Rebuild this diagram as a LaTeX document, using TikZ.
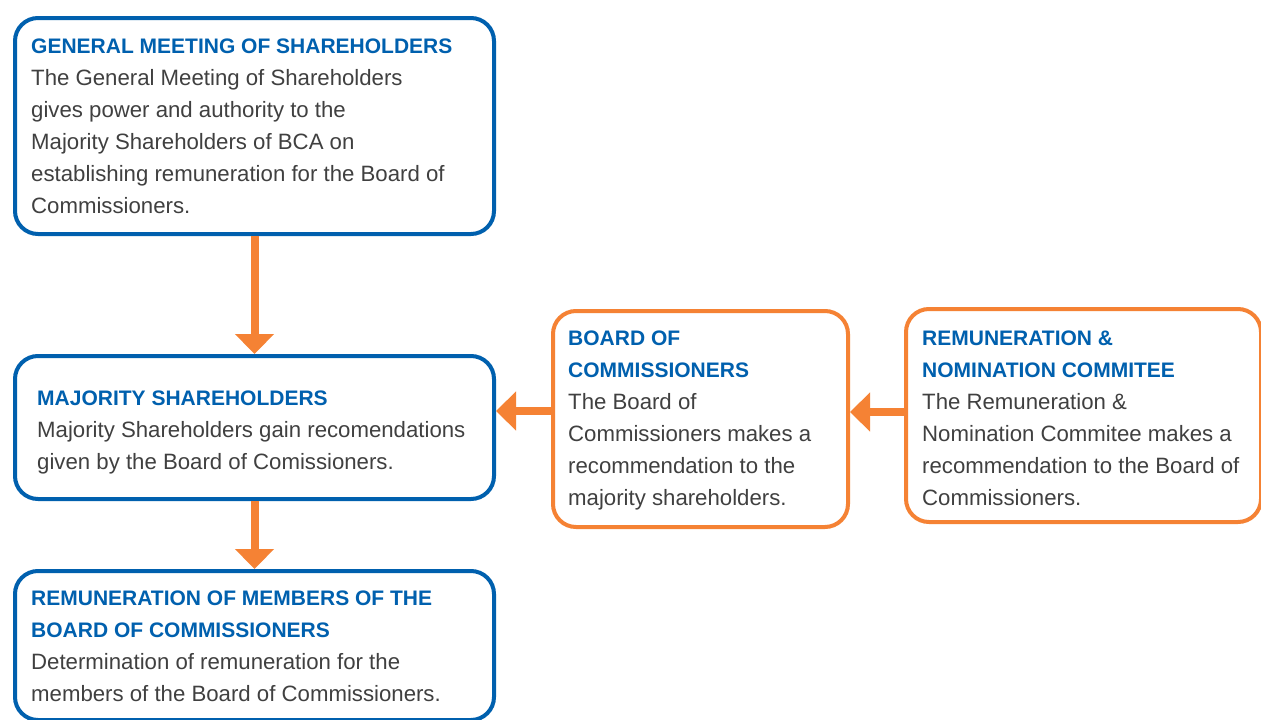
\documentclass[tikz,border=0pt]{standalone}
\usepackage{fontspec}
\setmainfont{Liberation Sans}
\usetikzlibrary{arrows.meta}
\definecolor{bcablue}{RGB}{0,96,174}
\definecolor{bcaorange}{RGB}{245,130,52}
\definecolor{bodygray}{RGB}{64,64,64}
\tikzset{
  bluebox/.style={draw=bcablue, line width=4pt, rounded corners=23pt, inner sep=0pt, anchor=north west},
  orangebox/.style={draw=bcaorange, line width=4pt, rounded corners=23pt, inner sep=0pt, anchor=north west},
  txt/.style={anchor=base west, inner sep=0pt, align=left, text=bodygray, font=\fontsize{22.2}{32}\selectfont},
  flow/.style={draw=bcaorange, line width=8pt, -{Triangle[width=38pt,length=20pt]}}
}
\newcommand{\ttl}[1]{{\color{bcablue}\bfseries\fontsize{21}{32}\selectfont #1}}
\begin{document}
\begin{tikzpicture}[x=1pt,y=-1pt]
\useasboundingbox (0,0) rectangle (1261,720);
\fill[white] (0,0) rectangle (1261,720);
% boxes
\node[bluebox, minimum width=479pt, minimum height=216pt] (gms) at (13,16) {};
\node[bluebox, minimum width=479pt, minimum height=143pt] (maj) at (13,354) {};
\node[bluebox, minimum width=479pt, minimum height=149pt] (rem) at (13,569) {};
\node[orangebox, minimum width=295pt, minimum height=216pt] (boc) at (551,309) {};
\node[orangebox, minimum width=355pt, minimum height=213pt] (rnc) at (904,307) {};
% texts (anchored at the baseline of the last line)
\node[txt] (gmsT) at (31,213) {\ttl{GENERAL MEETING OF SHAREHOLDERS}\\
The General Meeting of Shareholders\\
gives power and authority to the\\
Majority Shareholders of BCA on\\
establishing remuneration for the Board of\\
Commissioners.};
\node[txt] (majT) at (37,469) {\ttl{MAJORITY SHAREHOLDERS}\\
Majority Shareholders gain recomendations\\
given by the Board of Comissioners.};
\node[txt] (remT) at (31,701) {\ttl{REMUNERATION OF MEMBERS OF THE}\\
\ttl{BOARD OF COMMISSIONERS}\\
Determination of remuneration for the\\
members of the Board of Commissioners.};
\node[txt] (bocT) at (568,505) {\ttl{BOARD OF}\\
\ttl{COMMISSIONERS}\\
The Board of\\
Commissioners makes a\\
recommendation to the\\
majority shareholders.};
\node[txt] (rncT) at (922,505) {\ttl{REMUNERATION \&}\\
\ttl{NOMINATION COMMITEE}\\
The Remuneration \&\\
Nomination Commitee makes a\\
recommendation to the Board of\\
Commissioners.};
% connectors
\draw[flow] (gms.south) -- (maj.north);
\draw[flow] (maj.south) -- (rem.north);
\draw[flow] ([yshift=8pt]boc.west) -- ([yshift=8pt]boc.west -| maj.east);
\draw[flow] ([yshift=3.5pt]rnc.west) -- ([yshift=3.5pt]rnc.west -| boc.east);
\end{tikzpicture}
\end{document}
